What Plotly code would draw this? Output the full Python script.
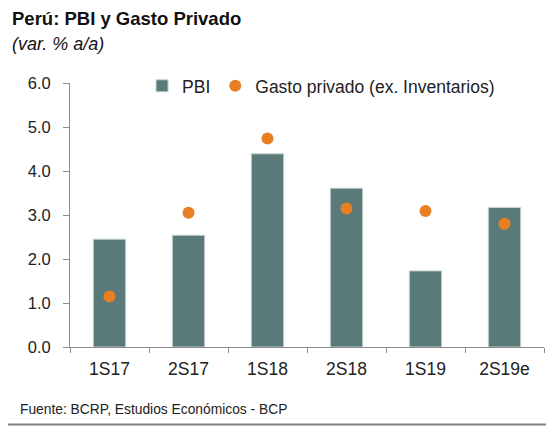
import plotly.graph_objects as go

# Datos del gráfico
periodos = ["1S17", "2S17", "1S18", "2S18", "1S19", "2S19e"]
pbi = [2.45, 2.54, 4.39, 3.61, 1.73, 3.17]
gasto_privado = [1.15, 3.05, 4.74, 3.15, 3.09, 2.80]
ticks_y = [0, 1, 2, 3, 4, 5, 6]

fig = go.Figure()

# Barras del PBI
fig.add_trace(go.Bar(x=periodos, y=pbi, name="PBI", width=0.41,
                     marker=dict(color="#5a7a7a", line=dict(color="#c5d3d3", width=1))))

# Puntos del gasto privado
fig.add_trace(go.Scatter(x=periodos, y=gasto_privado, mode="markers",
                         name="Gasto privado (ex. Inventarios)",
                         marker=dict(color="#e87f22", size=12)))

fig.update_layout(
    width=546, height=418,
    margin=dict(l=62, r=10, t=75, b=79),
    paper_bgcolor="white", plot_bgcolor="white",
    font=dict(family="Liberation Sans, Arial", size=16, color="#222222"),
    showlegend=True,
    legend=dict(orientation="h", x=0.152, y=0.989, xanchor="left", yanchor="middle",
                font=dict(size=17.5), traceorder="normal",
                bgcolor="rgba(0,0,0,0)"),
)

fig.update_yaxes(range=[0, 6], tickvals=ticks_y, tickformat=".1f", showgrid=False,
                 showline=True, linecolor="#8c8c8c", linewidth=1,
                 ticks="outside", ticklen=6, tickcolor="#8c8c8c", zeroline=False,
                 ticklabelstandoff=9, tickfont=dict(size=16.5))
fig.update_xaxes(showgrid=False, showline=True, linecolor="#8c8c8c", linewidth=1,
                 ticks="outside", tickson="boundaries", ticklen=5, tickcolor="#8c8c8c",
                 ticklabelstandoff=6, tickfont=dict(size=17.5))

# Títulos y fuente
fig.add_annotation(text="<b>Perú: PBI y Gasto Privado</b>", xref="paper", yref="paper",
                   x=-0.1266, y=1.246, xanchor="left", yanchor="middle", showarrow=False,
                   font=dict(size=18.5, color="#111111"))
fig.add_annotation(text="<i>(var. % a/a)</i>", xref="paper", yref="paper",
                   x=-0.1266, y=1.1496, xanchor="left", yanchor="middle", showarrow=False,
                   font=dict(size=18, color="#111111"))
fig.add_annotation(text="Fuente: BCRP, Estudios Económicos - BCP", xref="paper", yref="paper",
                   x=-0.1097, y=-0.2386, xanchor="left", yanchor="middle", showarrow=False,
                   font=dict(size=13.8, color="#222222"))

# Línea inferior de borde
fig.add_shape(type="line", xref="paper", yref="paper", x0=-0.2, x1=1.1, y0=-0.2936, y1=-0.2936,
              line=dict(color="#808080", width=2))

fig.write_html("out.html")
